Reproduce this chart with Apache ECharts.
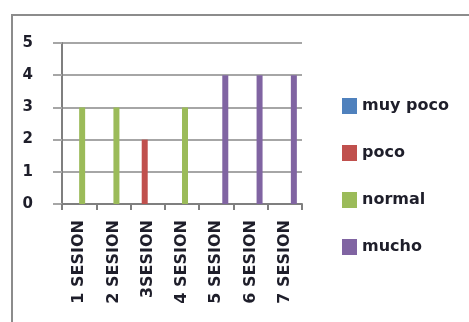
<!DOCTYPE html>
<html>
<head>
<meta charset="utf-8">
<script src="https://cdn.jsdelivr.net/npm/echarts@6/dist/echarts.min.js"></script>
<style>html,body{margin:0;padding:0;background:#fff}#c{width:469px;height:322px}</style>
</head>
<body>
<div id="c"></div>
<script>
var categories = ['1 SESION','2 SESION','3SESION','4 SESION','5 SESION','6 SESION','7 SESION'];
var seriesNames = ['muy poco','poco','normal','mucho'];
var muyPoco = [null,null,null,null,null,null,null];
var poco    = [null,null,2,null,null,null,null];
var normal  = [3,3,null,3,null,null,null];
var mucho   = [null,null,null,null,4,4,4];
var yTicks = [0,1,2,3,4,5];
var colors = ['#4F81BD','#C0504D','#9BBB59','#8064A2'];

var chart = echarts.init(document.getElementById('c'), null, {renderer:'canvas'});
var font = 'DejaVu Sans';
var values = [muyPoco, poco, normal, mucho];
chart.setOption({
  animation:false,
  color: colors,
  graphic:[{type:'rect', shape:{x:12,y:15,width:520,height:400}, style:{fill:'none', stroke:'#8c8c8c', lineWidth:2}, silent:true}],
  grid:{left:62, top:43, right:167, bottom:118},
  legend:{
    orient:'vertical', left:337, top:93, itemWidth:15, itemHeight:16, itemGap:31,
    icon:'rect',
    textStyle:{fontFamily:font, fontWeight:'bold', fontSize:16, color:'#1e1e2a'},
    data: seriesNames
  },
  xAxis:{
    type:'category', data:categories,
    axisLine:{lineStyle:{color:'#7f7f7f', width:2}},
    axisTick:{show:true, length:6, lineStyle:{color:'#7f7f7f', width:2}},
    axisLabel:{rotate:90, margin:16, fontFamily:font, fontWeight:'bold', fontSize:16, color:'#1e1e2a', padding:[0,0,12,0], interval:0}
  },
  yAxis:{
    type:'value', min:yTicks[0], max:yTicks[yTicks.length-1], interval:1,
    axisLine:{show:true, lineStyle:{color:'#7f7f7f', width:2}},
    axisTick:{show:true, length:9, lineStyle:{color:'#a6a6a6', width:2}},
    splitLine:{lineStyle:{color:'#a6a6a6', width:2}},
    axisLabel:{margin:29, fontFamily:font, fontWeight:'bold', fontSize:15, color:'#1e1e2a'}
  },
  series: seriesNames.map(function(n,i){
    return {name:n, type:'bar', data:values[i], barWidth:6, barGap:'0%'};
  })
});
</script>
</body>
</html>
